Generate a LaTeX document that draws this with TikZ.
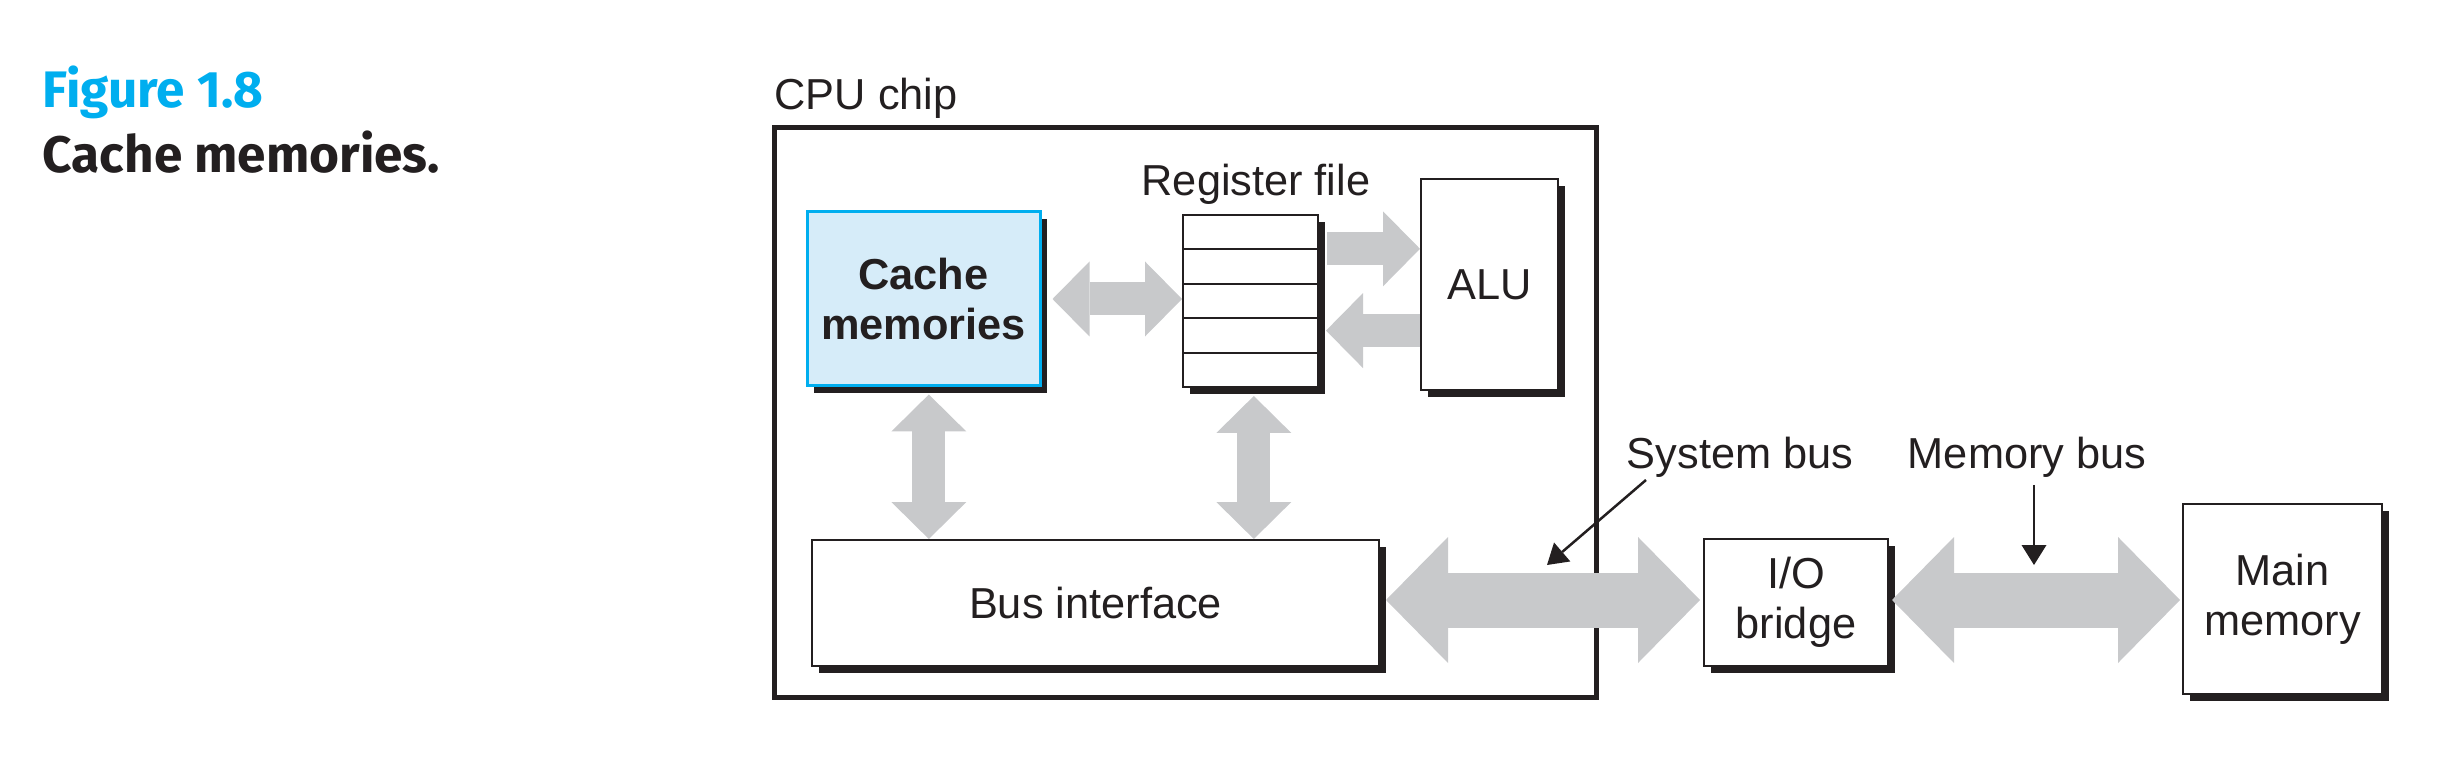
\documentclass[tikz,border=0pt]{standalone}
\usepackage{fontspec}
\setmainfont{Liberation Sans}
\newfontfamily\capfont{Fira Sans}
\usetikzlibrary{arrows.meta,shadows,calc}
\definecolor{arrowgray}{RGB}{200,201,203}
\definecolor{cachefill}{RGB}{214,236,249}
\definecolor{cacheline}{RGB}{0,174,239}
\definecolor{figcyan}{RGB}{0,174,239}
\definecolor{ink}{RGB}{35,31,32}
\tikzset{
  smalltip/.tip={Triangle[width=22.5pt,length=11.1pt,line width=0pt]},
  bigtip/.tip={Triangle[width=37.8pt,length=18.6pt,line width=0pt]},
  ptrtip/.tip={Triangle[width=7.5pt,length=6pt,line width=0pt]},
  lbl/.style={font=\fontsize{13}{15}\selectfont, text=ink, inner sep=0pt},
  captext/.style={font=\capfont\bfseries\fontsize{15.4}{18}\selectfont, inner sep=0pt},
  box/.style={draw=ink, line width=0.6pt, fill=white, inner sep=0pt, align=center,
    font=\fontsize{13}{15}\selectfont, text=ink,
    drop shadow={shadow xshift=2.1pt, shadow yshift=-2.1pt, fill=ink, opacity=1}},
  cachebox/.style={box, draw=cacheline, fill=cachefill, line width=0.9pt,
    font=\bfseries\fontsize{13}{15}\selectfont},
  chip/.style={draw=ink, line width=1.5pt, inner sep=0pt},
  smallarrow/.style={draw=arrowgray, line width=9.9pt, arrows={smalltip-smalltip}},
  smallarrowone/.style={draw=arrowgray, line width=9.9pt, arrows={-smalltip}},
  bigarrow/.style={draw=arrowgray, line width=16.5pt, arrows={bigtip-bigtip}},
  pointer/.style={draw=ink, line width=0.75pt, arrows={-ptrtip}},
}
\begin{document}
\begin{tikzpicture}[x=0.3pt,y=-0.3pt]
\useasboundingbox (0,0) rectangle (2451,759);

% caption
\node[captext, text=figcyan, anchor=base west] (fig) at (42,108) {Figure 1.8};
\node[captext, text=ink, anchor=base west] (figtitle) at (42,173) {Cache memories.};

% CPU chip
\node[chip, minimum width=246.6pt, minimum height=171pt] (cpu) at (1185,413) {};
\node[lbl, anchor=base west] (cpulbl) at (774,110) {CPU chip};

% boxes
\node[cachebox, minimum width=69.9pt, minimum height=52.2pt] (cache) at (923.5,299) {Cache\\memories};
\node[box, minimum width=40.5pt, minimum height=51.6pt] (reg) at (1250.5,301) {};
\foreach \k in {1,2,3,4}{
  \draw[draw=ink, line width=0.6pt] ($(reg.north west)!\k/5!(reg.south west)$) -- ($(reg.north east)!\k/5!(reg.south east)$);
}
\node[lbl, anchor=base] (reglbl) at (1256,196) {Register file};
\node[box, minimum width=41.1pt, minimum height=63.3pt] (alu) at (1489.5,284.5) {ALU};
\node[box, minimum width=170.1pt, minimum height=37.8pt] (bus) at (1095.5,603) {Bus interface};
\node[box, minimum width=55.2pt, minimum height=38.1pt] (io) at (1796,602.5) {I/O\\bridge};
\node[box, minimum width=59.7pt, minimum height=57pt] (mem) at (2282.5,599) {Main\\memory};

% gray arrows
\draw[smallarrow] ([xshift=3.3pt]cache.east) -- (cache.east -| reg.west);
\coordinate (r2a) at ($(reg.north east)!0.2!(reg.south east)$);
\coordinate (a2r) at ($(reg.north east)!0.67!(reg.south east)$);
\draw[smallarrowone] ([xshift=2.4pt]r2a) -- (r2a -| alu.west);
\draw[smallarrowone] (a2r -| alu.west) -- ([xshift=2.1pt]a2r);
\draw[smallarrow] ([xshift=1.6pt,yshift=-2.1pt]cache.south) -- ([xshift=1.6pt]cache.south |- bus.north);
\draw[smallarrow] ([xshift=1pt,yshift=-2.4pt]reg.south) -- ([xshift=1pt]reg.south |- bus.north);
\draw[bigarrow] ([xshift=1.8pt,yshift=0.9pt]bus.east) -- ([xshift=-0.9pt,yshift=0.9pt]bus.east -| io.west);
\draw[bigarrow] ([xshift=0.9pt,yshift=0.75pt]io.east) -- ([xshift=-0.6pt,yshift=0.75pt]io.east -| mem.west);

% bus labels and pointers
\node[lbl, anchor=base] (sblbl) at (1740,468) {System bus};
\node[lbl, anchor=base] (mblbl) at (2027,468) {Memory bus};
\coordinate (sbs) at (1646,480);
\coordinate (sbt) at (1547,565);
\coordinate (mbs) at (2034,485);
\coordinate (mbt) at (2034,565);
\draw[pointer] (sbs) -- (sbt);
\draw[pointer] (mbs) -- (mbt);
\end{tikzpicture}
\end{document}
